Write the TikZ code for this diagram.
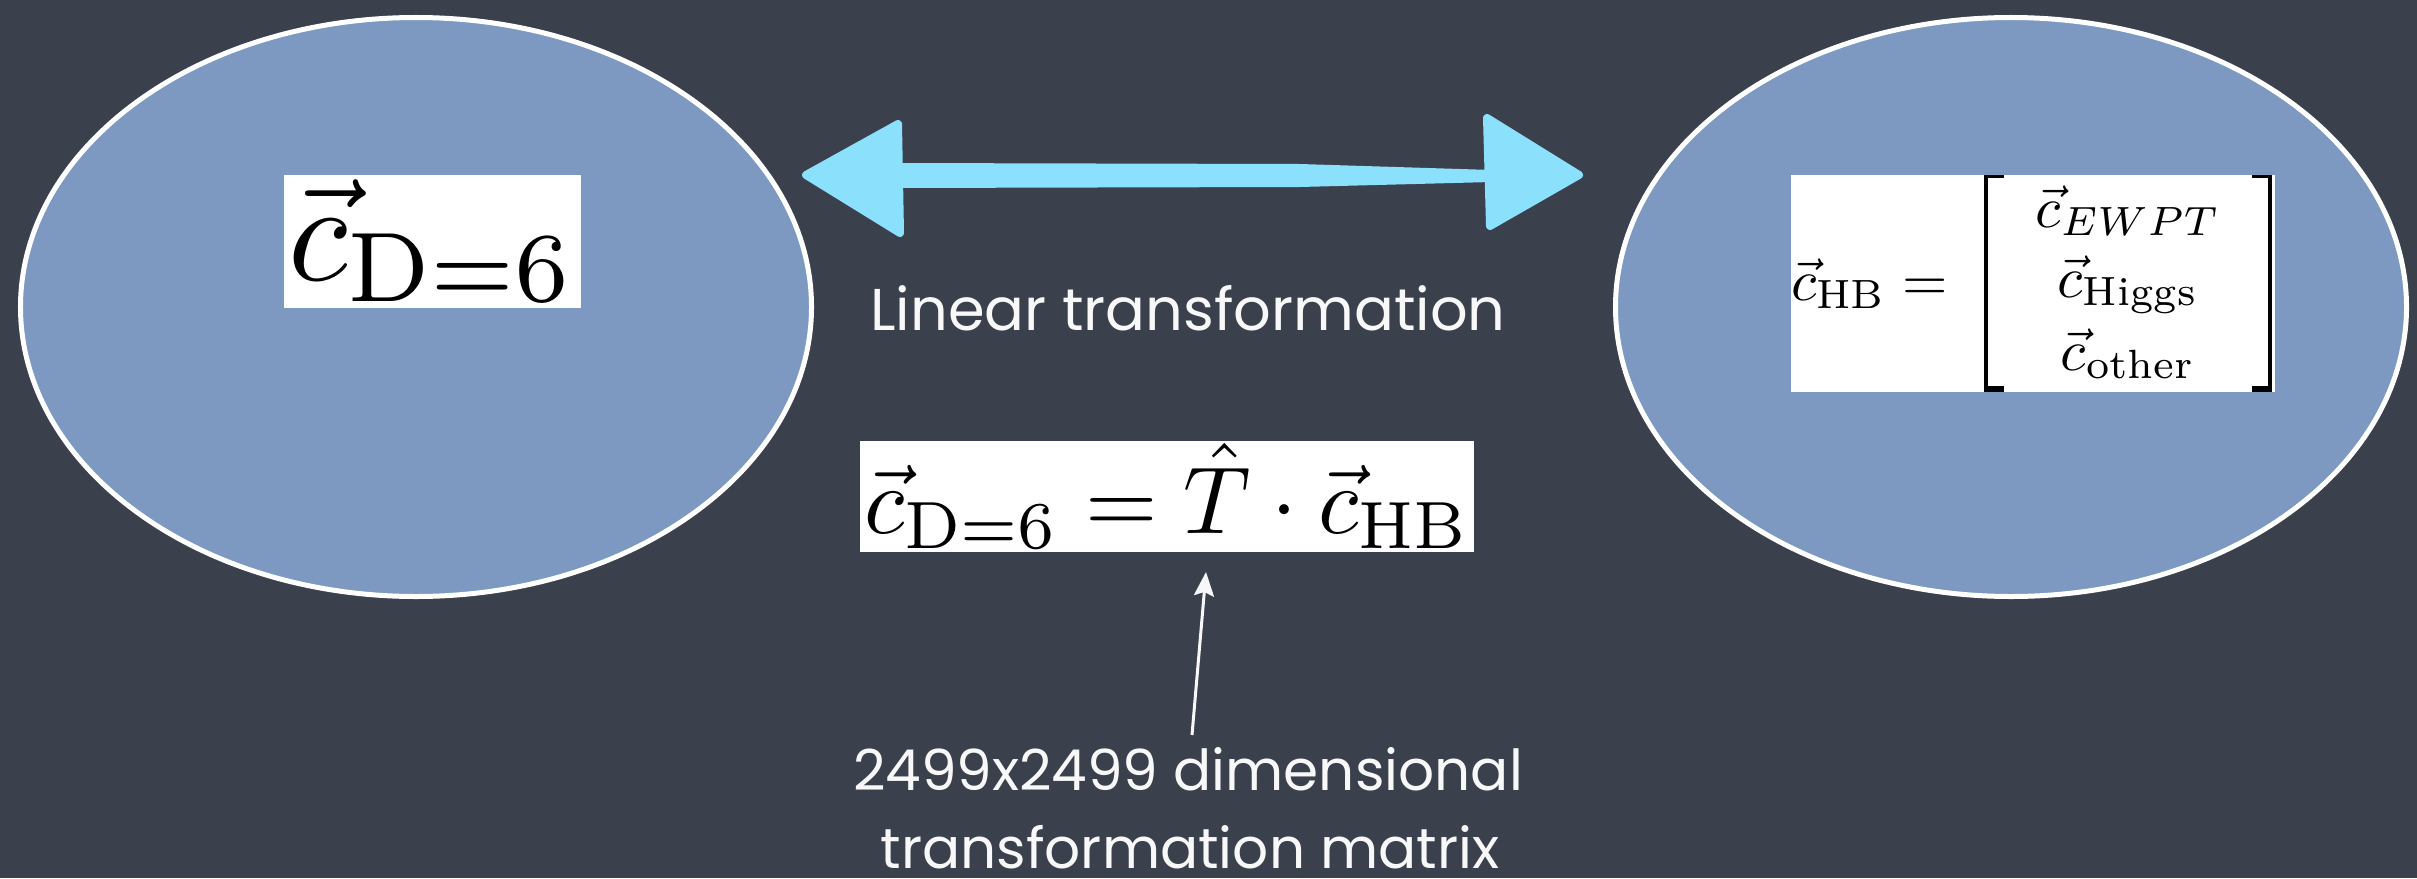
\documentclass[tikz,border=0pt]{standalone}
\usepackage{fontspec}
\newfontfamily\chalk{Poppins}
\usetikzlibrary{shapes.geometric,arrows.meta}
\definecolor{board}{RGB}{59,64,77}
\definecolor{blobfill}{RGB}{125,153,193}
\definecolor{arrowc}{RGB}{139,224,252}
\definecolor{chalkwhite}{RGB}{248,248,248}
\begin{document}
\begin{tikzpicture}[x=1bp,y=-1bp,
  blob/.style={ellipse, draw=white, line width=5bp, fill=blobfill, minimum width=791bp, minimum height=579bp, inner sep=0pt},
  mathbox/.style={fill=white, inner sep=0pt, outer sep=0pt},
  formula/.style={inner sep=0pt, outer sep=0pt},
  chalktext/.style={text=chalkwhite, inner sep=0pt, anchor=base},
  bigarrow/.style={fill=arrowc, draw=arrowc, line width=8bp, line join=round},
  pointer/.style={draw=chalkwhite, line width=3bp, -{Stealth[length=24bp,width=20bp,inset=4bp]}}]
\useasboundingbox (0,0) rectangle (2417,878);
\fill[board] (0,0) rectangle (2417,878);

% ellipses
\node[blob] (left) at (416,307) {};
\node[blob] (right) at (2011,307) {};

% left formula
\node[mathbox, minimum width=297bp, minimum height=133bp] (lform) at (432.5,241.5)
  {\resizebox*{288bp}{124bp}{$\vec{c}_{\mathrm{D=6}}$}};

% right formula
\fill[white] (1791,175) rectangle (2275,392);
\node[formula, anchor=base west] (chb) at (1791,300) {\scalebox{5.86}{$\vec{c}_{\mathrm{HB}} =$}};
\node[formula, anchor=base] (e1) at (2128,227) {\scalebox{5.86}{$\vec{c}_{EWPT}$}};
\node[formula, anchor=base] (e2) at (2128,297) {\scalebox{5.86}{$\vec{c}_{\mathrm{Higgs}}$}};
\node[formula, anchor=base] (e3) at (2128,370) {\scalebox{5.86}{$\vec{c}_{\mathrm{other}}$}};
\fill[black] (1984,175) rectangle (1988,392);
\fill[black] (1984,175) rectangle (2004,178);
\fill[black] (1984,386) rectangle (2004,392);
\fill[black] (2268,175) rectangle (2272,392);
\fill[black] (2252,175) rectangle (2272,178);
\fill[black] (2252,386) rectangle (2272,392);

% double arrow
\coordinate (la) at (806,175);
\coordinate (ra) at (1579,175);
\fill[arrowc] (893,163) -- (1300,164) -- (1492,170) -- (1492,182) -- (1300,187) -- (893,188) -- cycle;
\filldraw[bigarrow] (la) -- (898,124) -- (900,233) -- cycle;
\filldraw[bigarrow] (ra) -- (1487,118) -- (1490,226) -- cycle;

\node[chalktext, font=\chalk\fontsize{59bp}{70bp}\selectfont] (lin) at (1188,330) {Linear transformation};

% middle formula
\node[mathbox, minimum width=614bp, minimum height=111bp] (mform) at (1167,496.5)
  {\resizebox*{606bp}{106bp}{$\vec{c}_{\mathrm{D=6}} = \hat{T}\cdot\vec{c}_{\mathrm{HB}}$}};

% bottom text
\node[chalktext, font=\chalk\fontsize{56.5bp}{70bp}\selectfont] (dim1) at (1188,790) {2499x2499 dimensional};
\node[chalktext, font=\chalk\fontsize{56.5bp}{70bp}\selectfont] (dim2) at (1190,868) {transformation matrix};

\coordinate (ptail) at (1192,735);
\coordinate (phead) at (1206,572);
\draw[pointer] (ptail) -- (phead);
\end{tikzpicture}
\end{document}
